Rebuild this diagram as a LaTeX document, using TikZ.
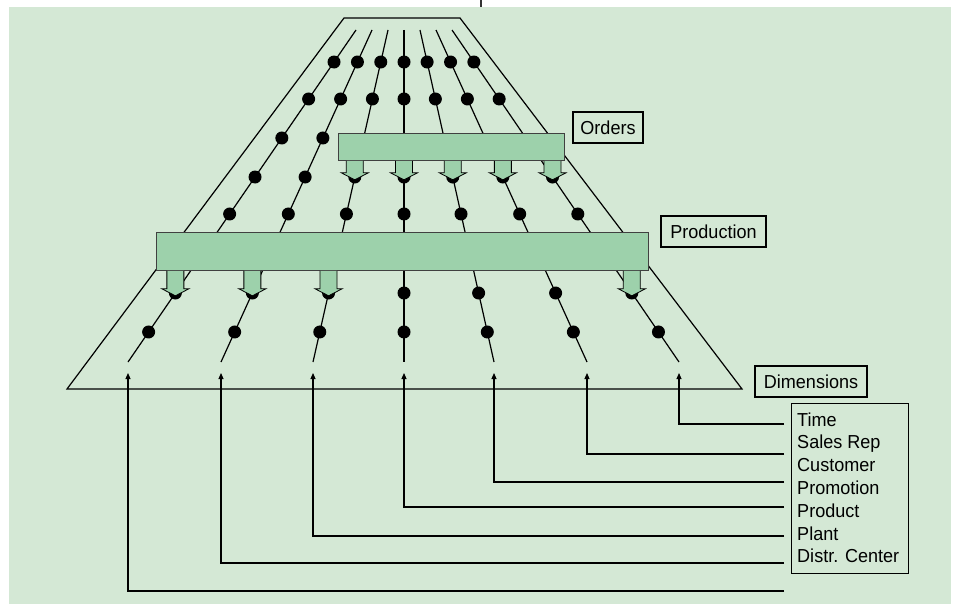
\documentclass[tikz,border=0pt]{standalone}
\usepackage{fontspec}
\setmainfont{Liberation Sans}[FakeStretch=0.96]
\usetikzlibrary{arrows.meta}
\definecolor{bggreen}{HTML}{D4E8D5}
\definecolor{barfill}{HTML}{9DD1AB}
\begin{document}
\begin{tikzpicture}[x=1pt,y=-1pt,
  lab/.style={draw=black, line width=1.2pt, font=\fontsize{18.8}{22}\selectfont, inner sep=0pt, minimum height=31pt},
  legtext/.style={anchor=base west, inner sep=0pt, font=\fontsize{18.8}{22}\selectfont},
  dot/.style={circle, fill=black, inner sep=0pt, minimum size=13pt},
  dimline/.style={line width=1.2pt},
  bar/.style={draw=black!75, line width=0.8pt, fill=barfill, inner sep=0pt, anchor=north west},
  conn/.style={line width=1.1pt, -{Triangle[width=5pt,length=6pt]}},
  pics/barrow/.style={code={\draw[line width=0.8pt, fill=barfill, line join=miter]
      (-8.5,0) -- (-8.5,#1) -- (-13.5,#1) -- (0,#1+7) -- (13.5,#1) -- (8.5,#1) -- (8.5,0);}}]
\useasboundingbox (0,0) rectangle (957,604);
\fill[white] (0,0) rectangle (957,604);
\fill[bggreen] (9,7) rectangle (951,604);
\draw[line width=1.5pt, black!80] (481,0) -- (481,7);
% trapezoid
\draw[dimline] (344,18) -- (460,18) -- (742,389) -- (67,389) -- cycle;
% dimension lines
\foreach \i/\xt/\xb in {1/356/128, 2/372/221, 3/388/313, 4/404/404, 5/420/494, 6/436/587, 7/452/679} {
  \coordinate (t\i) at (\xt,30);
  \coordinate (b\i) at (\xb,362);
  \coordinate (tip\i) at (\xb,373);
  \draw[dimline] (t\i) -- (b\i);
}
% dots (pos = (y-30)/332)
\foreach \i in {1,2} {
  \foreach \p/\r in {0.0964/1, 0.2078/2, 0.3253/3, 0.4428/4, 0.5542/5, 0.7922/6, 0.9096/7}
    \path (t\i) -- (b\i) node[dot, pos=\p] (d\i-\r) {};
}
\foreach \i in {3,...,7} {
  \foreach \p/\r in {0.0964/1, 0.2078/2, 0.4428/4, 0.5542/5, 0.7922/6, 0.9096/7}
    \path (t\i) -- (b\i) node[dot, pos=\p] (d\i-\r) {};
}
% bars
\node[bar, minimum width=226pt, minimum height=27pt] (ordersbar) at (338,133) {};
\node[bar, minimum width=492pt, minimum height=38pt] (productionbar) at (156,232) {};
% block arrows
\foreach \i in {3,...,7}
  \pic at (ordersbar.south -| d\i-4) {barrow=12};
\foreach \i in {1,2,3,7}
  \pic at (productionbar.south -| d\i-6) {barrow=18};
% labels
\node[lab, minimum width=70pt] (orders) at (608,127.5) {Orders};
\node[lab, minimum width=105pt] (production) at (713.5,231.5) {Production};
\node[lab, minimum width=112pt] (dimensions) at (811,381.5) {Dimensions};
% legend
\node[draw, line width=1.2pt, minimum width=117pt, minimum height=170pt, inner sep=0pt, anchor=north west] (legend) at (791,403) {};
\foreach \t/\y [count=\k] in {Time/426, Sales Rep/448.8, Customer/471.6, Promotion/494.4, Product/517.2, Plant/540, Distr. Center/562.8}
  \node[legtext] (l\k) at (797,\y) {\t};
% connectors
\foreach \i/\y in {7/424, 6/454, 5/482, 4/507, 3/536, 2/563, 1/591} {
  \coordinate (c\i) at (784,\y);
  \draw[conn] (c\i) -| (tip\i);
}
\end{tikzpicture}
\end{document}
